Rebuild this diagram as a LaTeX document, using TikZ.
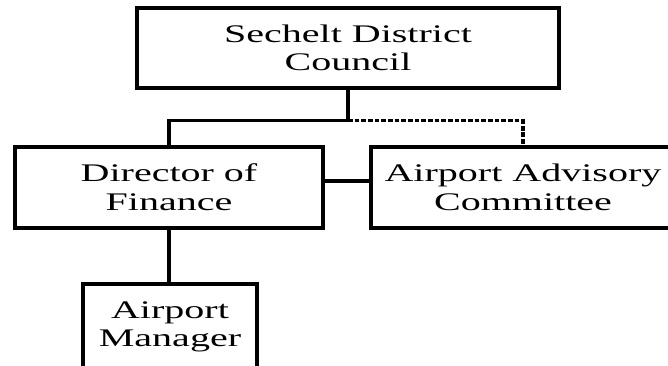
\documentclass[tikz,border=0pt]{standalone}
\usepackage{fontspec}
\newfontfamily\orgfont[FakeStretch=1.58]{Liberation Serif}
\usetikzlibrary{positioning}

\tikzset{
  unit/.style={draw, line width=2.6pt, inner sep=0pt, align=center,
    font=\orgfont\fontsize{19}{21.5}\selectfont},
  link/.style={line width=2.6pt},
  advice/.style={line width=2.4pt, dash pattern=on 3.6pt off 1.4pt}
}

\begin{document}
\begin{tikzpicture}[x=0.75pt, y=-0.75pt]
            \useasboundingbox (0,0) rectangle (668,366);

            \node[unit, minimum width=316.5pt, minimum height=60pt] (council) at (348,48) {Sechelt District\\Council};
            \node[unit, minimum width=231pt, minimum height=60.75pt] (director) at (169,187.5) {Director of\\Finance};
            \node[unit, minimum width=228pt, minimum height=60.75pt] (advisory) at (523,187.5) {Airport Advisory\\Committee};
            \node[unit, minimum width=130.5pt, minimum height=64.5pt] (manager) at (170,327) {Airport\\Manager};

            \draw[link] (council.south) -- ++(0,31) coordinate (split) -| (director.north);
            \draw[advice] (split) -| (advisory.north);
            \draw[link] ([yshift=4.9pt]director.east) -- ([yshift=4.9pt]advisory.west);
            \draw[link] (director.south) -- (director.south |- manager.north);
        \end{tikzpicture}
\end{document}
